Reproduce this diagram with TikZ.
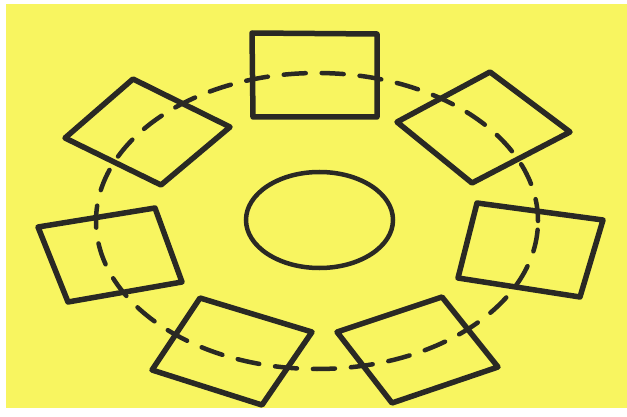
\documentclass[tikz,border=0pt]{standalone}
\usepackage{xcolor}
\usepackage{tikz}
\usetikzlibrary{shapes.geometric}

\definecolor{paper}{RGB}{248,245,96}
\definecolor{ink}{RGB}{42,41,36}

\begin{document}
\begin{tikzpicture}[
  x=1pt, y=-1pt,
  seat/.style  = {draw=ink, line width=5.5pt, line join=round},
  table/.style = {draw=ink, line width=4.5pt, ellipse,
                  minimum width=147pt, minimum height=96pt},
  ring/.style  = {draw=ink, line width=4.5pt, line cap=round,
                  dash pattern=on 22pt off 16pt}
]
  \useasboundingbox (0,0) rectangle (627,417);
  \fill[white] (0,0) rectangle (627,417);
  \fill[paper] (6,4) rectangle (627,408);

  \node[table] (table) at (319.5,220) {};

  \draw[ring] (317,221) ellipse [x radius=221pt, y radius=148pt];

  \draw[seat] (252,33) -- (377,34) -- (377,117) -- (253,117) -- cycle;
  \draw[seat] (133,79) -- (230,127) -- (161,185) -- (65,138) -- cycle;
  \draw[seat] (490,72) -- (570,132) -- (472,183) -- (397,122) -- cycle;
  \draw[seat] (38,227) -- (155,208) -- (182,282) -- (68,302) -- cycle;
  \draw[seat] (477,203) -- (603,220) -- (580,297) -- (458,278) -- cycle;
  \draw[seat] (200,298) -- (312,332) -- (262,405) -- (152,370) -- cycle;
  \draw[seat] (337,332) -- (442,297) -- (498,367) -- (392,403) -- cycle;
\end{tikzpicture}
\end{document}
